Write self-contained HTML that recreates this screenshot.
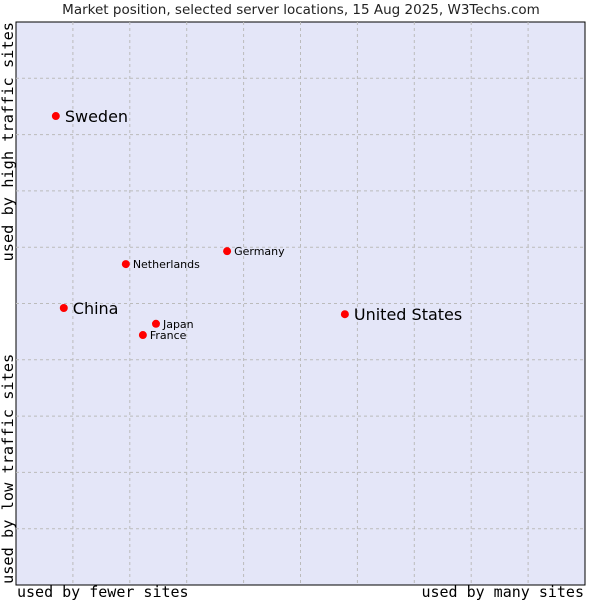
<!DOCTYPE html>
<html><head><meta charset="utf-8"><style>
html,body{margin:0;padding:0;background:#fff;}
svg{display:block;font-family:"DejaVu Sans","Liberation Sans",sans-serif;}
</style></head><body>
<svg id="chart" width="600" height="600">
<text x="301" y="14" text-anchor="middle" font-size="13.5" fill="#222">Market position, selected server locations, 15 Aug 2025, W3Techs.com</text>
<rect x="16" y="22" width="569" height="563" fill="#e4e6f8" stroke="#000" stroke-width="1"/>
<g id="grid"></g>
<g id="points"></g>
<text x="17" y="597" font-family="DejaVu Sans Mono,Liberation Mono,monospace" font-size="15" fill="#000">used by fewer sites</text>
<text x="584" y="597" text-anchor="end" font-family="DejaVu Sans Mono,Liberation Mono,monospace" font-size="15" fill="#000">used by many sites</text>
<text transform="translate(13,584) rotate(-90)" font-family="DejaVu Sans Mono,Liberation Mono,monospace" font-size="15.3" fill="#000">used by low traffic sites</text>
<text transform="translate(13,22) rotate(-90)" text-anchor="end" font-family="DejaVu Sans Mono,Liberation Mono,monospace" font-size="15.3" fill="#000">used by high traffic sites</text>
</svg>
<script>
const names = ["Sweden","China","Netherlands","Germany","Japan","France","United States"];
const xValues = [7.0, 8.4, 19.3, 37.1, 24.6, 22.3, 57.8];
const yValues = [83.3, 49.2, 57.0, 59.3, 46.4, 44.4, 48.1];
const bigLabel = [true, true, false, false, false, false, true];
const gridTicks = [10,20,30,40,50,60,70,80,90];

const L=16,T=22,W=569,H=563;
const sx=v=>L+v/100*W;
const sy=v=>T+H-v/100*H;
const NS="http://www.w3.org/2000/svg";
const grid=document.getElementById('grid');
gridTicks.forEach(t=>{
  const v=document.createElementNS(NS,'line');
  v.setAttribute('x1',sx(t));v.setAttribute('x2',sx(t));v.setAttribute('y1',T);v.setAttribute('y2',T+H);
  v.setAttribute('stroke','#bbb');v.setAttribute('stroke-dasharray','3,3');
  
  
  grid.appendChild(v);
  const h=document.createElementNS(NS,'line');
  h.setAttribute('y1',sy(t));h.setAttribute('y2',sy(t));h.setAttribute('x1',L);h.setAttribute('x2',L+W);
  h.setAttribute('stroke','#bbb');h.setAttribute('stroke-dasharray','3,3');
  
  
  grid.appendChild(h);
});
const pts=document.getElementById('points');
names.forEach((n,i)=>{
  const x=sx(xValues[i]),y=sy(yValues[i]);
  const c=document.createElementNS(NS,'circle');
  c.setAttribute('cx',x);c.setAttribute('cy',y);c.setAttribute('r',4);c.setAttribute('fill','#f00');
  
  
  pts.appendChild(c);
  const t=document.createElementNS(NS,'text');
  t.setAttribute('x',x+(bigLabel[i]?9:7));
  t.setAttribute('y',y+(bigLabel[i]?6:4));
  t.setAttribute('font-size',bigLabel[i]?16:11);
  t.setAttribute('fill','#000');
  t.textContent=n;
  
  
  pts.appendChild(t);
});
</script>
</body></html>
